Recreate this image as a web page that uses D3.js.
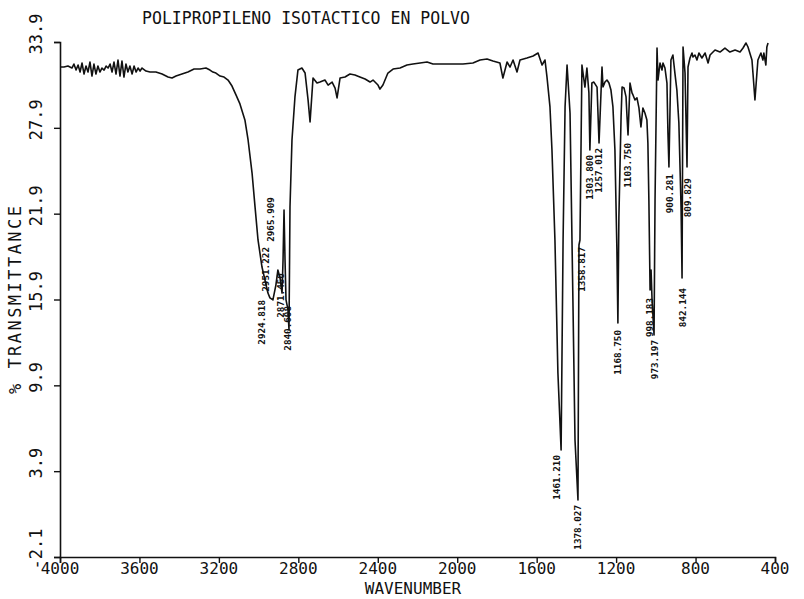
<!DOCTYPE html>
<html><head><meta charset="utf-8">
<script src="https://cdn.jsdelivr.net/npm/d3@7"></script>
<style>
html,body{margin:0;padding:0;background:#fff;}
svg text{font-family:"DejaVu Sans Mono",monospace;fill:#111;}
</style></head>
<body>
<svg id="chart" width="804" height="599"></svg>
<script>
const titleText = "POLIPROPILENO ISOTACTICO EN POLVO";
const xTitle = "WAVENUMBER";
const yTitle = "% TRANSMITTANCE";
const xTicks = [4000, 3600, 3200, 2800, 2400, 2000, 1600, 1200, 800, 400];
const yTicks = [33.9, 27.9, 21.9, 15.9, 9.9, 3.9, -2.1];

const wavenumber = [4000,3980,3960,3940,3930,3919,3909,3899,3889,3879,3869,3859,3849,3839,3829,3819,3809,3799,3789,3778,3768,3758,3748,3738,3728,3718,3708,3698,3688,3678,3668,3658,3648,3637,3627,3617,3607,3597,3587,3567,3547,3517,3486,3456,3436,3416,3386,3356,3325,3295,3265,3245,3230,3215,3194,3174,3154,3134,3114,3094,3069,3053,3033,3018,3003,2983,2968,2953,2943,2928,2913,2903,2892,2882,2877,2872,2867,2862,2852,2847,2842,2832,2817,2802,2782,2766,2751,2741,2726,2706,2691,2666,2650,2630,2615,2605,2590,2565,2540,2515,2490,2464,2439,2424,2399,2389,2374,2349,2323,2288,2253,2223,2187,2152,2122,2072,2021,1971,1921,1885,1850,1820,1785,1770,1749,1734,1719,1699,1684,1649,1618,1593,1573,1558,1548,1533,1523,1508,1493,1477,1467,1457,1447,1432,1417,1407,1392,1387,1382,1372,1357,1347,1337,1332,1322,1312,1296,1286,1271,1266,1256,1246,1236,1226,1216,1206,1196,1191,1186,1175,1170,1160,1150,1145,1140,1130,1120,1115,1105,1095,1085,1075,1065,1055,1045,1040,1035,1029,1024,1019,1009,1004,994,989,979,969,964,954,944,939,934,924,914,904,894,884,873,868,863,853,843,838,828,818,813,803,793,783,768,752,737,727,702,677,652,627,601,576,561,546,536,516,511,501,491,486,471,461,456,446,441,435];
const transmittance = [32.15,32.15,32.22,32.08,32.36,31.94,32.29,31.80,32.43,31.66,32.22,31.80,32.50,31.52,32.36,31.66,32.22,31.80,32.08,31.94,32.22,32.08,32.36,31.80,32.50,31.66,32.64,31.52,32.57,31.45,32.36,31.80,32.22,31.66,32.22,31.80,32.08,31.87,32.08,31.87,31.80,31.80,31.66,31.45,31.38,31.52,31.66,31.80,32.01,32.01,32.08,31.94,31.80,31.73,31.52,31.45,31.24,30.82,30.20,29.57,28.45,27.05,24.74,22.37,20.06,18.17,17.26,16.35,16.01,15.87,16.91,17.96,17.40,16.35,18.66,22.16,18.66,15.87,15.17,13.77,22.37,27.05,30.06,31.94,32.08,31.73,29.85,28.31,31.38,31.03,31.10,31.24,30.89,31.10,30.68,29.99,31.38,31.45,31.66,31.59,31.45,31.31,31.10,31.24,30.89,30.61,30.89,31.73,32.01,32.08,32.29,32.36,32.43,32.50,32.36,32.36,32.36,32.36,32.43,32.64,32.71,32.57,32.43,31.38,32.50,32.15,32.64,31.80,32.64,32.78,32.92,33.13,32.29,32.64,31.45,29.36,26.35,20.06,10.76,5.38,20.06,29.36,32.29,28.94,15.38,6.08,1.89,19.71,20.06,32.29,30.75,32.08,30.34,26.35,31.03,31.10,30.75,26.84,32.15,30.75,31.10,31.24,31.03,30.54,29.36,26.35,19.36,14.26,21.67,28.66,30.75,30.68,30.06,28.66,27.40,31.03,30.34,30.20,29.85,29.99,29.29,27.96,29.29,28.94,28.45,26.84,22.86,16.56,17.96,15.87,13.42,22.86,33.48,31.24,32.43,31.94,32.43,32.08,31.03,27.54,25.16,32.64,32.99,31.73,30.54,28.24,22.37,17.40,33.55,31.73,25.16,32.15,32.78,33.13,32.85,32.99,32.64,33.13,32.78,33.13,32.43,32.99,33.34,33.20,33.48,33.20,33.34,33.20,33.48,33.83,33.55,32.64,31.73,29.85,31.73,32.64,33.13,32.64,33.13,32.29,33.55,33.83];

const peakText = ["2965.909","2951.222","2924.818","2871.450","2840.608","1461.210","1378.027","1358.817","1303.800","1257.012","1168.750","1103.750","998.183","973.197","900.281","842.144","809.829"];
const peakLabelWn = [2938,2963,2983,2887,2852,1498,1392,1372,1332,1286,1191,1140,1029,1004,929,863,838];
const peakLabelT = [23.06,19.57,15.87,17.75,15.45,5.03,1.54,19.57,26.00,26.49,13.77,26.84,16.01,13.07,24.67,16.70,24.39];

const svg = d3.select("#chart");
const x = d3.scaleLinear().domain([4000, 400]).range([60, 775]);
const y = d3.scaleLinear().domain([-2.1, 33.9]).range([557, 42]);

// title
svg.append("text").attr("x", 142).attr("y", 24).attr("font-size", 17)
  .attr("textLength", 328).attr("lengthAdjust", "spacingAndGlyphs").text(titleText);

// axes
const xAxis = d3.axisBottom(x).tickValues(xTicks).tickSize(6).tickFormat("");
const gx = svg.append("g").attr("transform", "translate(0,557)").call(xAxis);
const yAxis = d3.axisLeft(y).tickValues(yTicks).tickSize(6).tickFormat("");
const gy = svg.append("g").attr("transform", "translate(60,0)").call(yAxis);
[gx, gy].forEach(g => {
  g.select(".domain").attr("stroke", "#111").attr("stroke-width", 1.6);
  g.selectAll(".tick line").attr("stroke", "#111").attr("stroke-width", 1.4);
});

svg.selectAll("text.xtl").data(xTicks).enter().append("text")
  .attr("class", "xtl").attr("x", d => x(d)).attr("y", 574)
  .attr("text-anchor", "middle").attr("font-size", 16).text(d => d);

svg.selectAll("text.ytl").data(yTicks).enter().append("text")
  .attr("class", "ytl")
  .attr("transform", d => `translate(42,${y(d) - 8}) rotate(-90)`)
  .attr("text-anchor", "middle").attr("font-size", 17).text(d => d.toFixed(1));

svg.append("text").attr("x", 413).attr("y", 594).attr("text-anchor", "middle")
  .attr("font-size", 16).text(xTitle);
svg.append("text").attr("transform", "translate(21,300) rotate(-90)")
  .attr("text-anchor", "middle").attr("font-size", 17)
  .attr("textLength", 188).attr("lengthAdjust", "spacing").text(yTitle);

// spectrum
const pts = wavenumber.map((w, i) => [w, transmittance[i]]);
svg.append("path").datum(pts)
  .attr("fill", "none").attr("stroke", "#111").attr("stroke-width", 1.6)
  .attr("stroke-linejoin", "round")
  .attr("d", d3.line().x(d => x(d[0])).y(d => y(d[1])));

// peak labels
svg.selectAll("text.pk").data(peakText).enter().append("text")
  .attr("class", "pk")
  .attr("transform", (d, i) => `translate(${x(peakLabelWn[i]) + 3},${y(peakLabelT[i])}) rotate(-90)`)
  .attr("text-anchor", "end").attr("font-size", 9.3).attr("font-weight", "bold")
  .text(d => d);
</script>
</body></html>
